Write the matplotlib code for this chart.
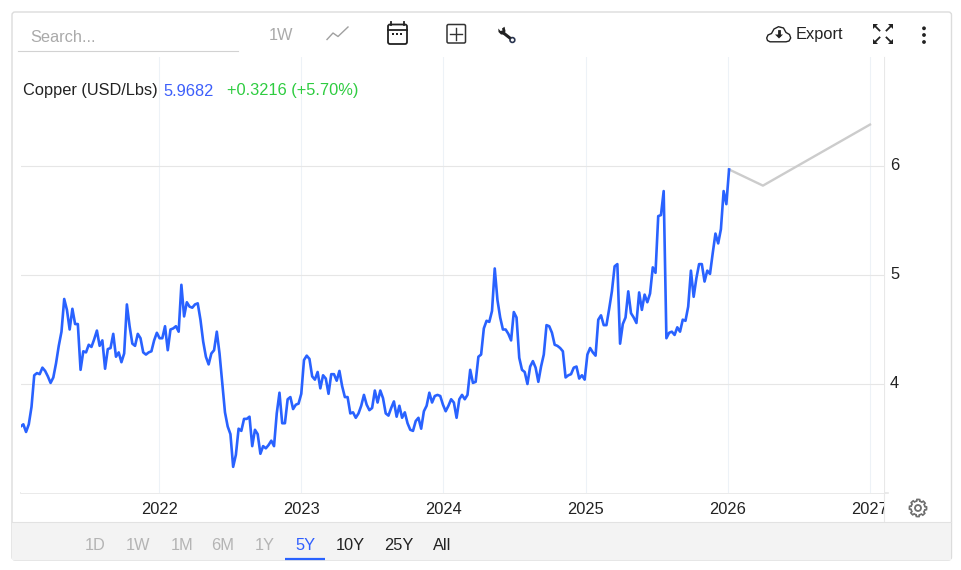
import numpy as np
import pandas as pd
import matplotlib
matplotlib.use("Agg")
import matplotlib.pyplot as plt
import matplotlib.dates as mdates
from matplotlib.patches import FancyBboxPatch, Rectangle, Circle, Polygon
from matplotlib.transforms import Bbox, ScaledTranslation

plt.rcParams['font.family'] = ['Liberation Sans', 'DejaVu Sans']

# --- Data (weekly closes, last one is 2026-01-04) ---
copper_2021_22 = [
    3.61, 3.63, 3.56, 3.63, 3.79, 4.08, 4.10, 4.09, 4.15, 4.12, 4.07, 4.01, 4.06, 4.19, 4.35,
    4.48, 4.78, 4.68, 4.50, 4.69, 4.55, 4.55, 4.13, 4.30, 4.29, 4.36, 4.34, 4.41, 4.49, 4.35,
    4.40, 4.14, 4.32, 4.33, 4.46, 4.25, 4.29, 4.20, 4.28, 4.73, 4.53, 4.37, 4.35, 4.46, 4.42,
    4.29, 4.27, 4.29, 4.30, 4.40, 4.47, 4.42, 4.42, 4.53, 4.31, 4.50, 4.51, 4.53, 4.48, 4.91,
    4.62, 4.75, 4.71, 4.70, 4.73, 4.74, 4.59, 4.39, 4.25, 4.18, 4.28, 4.31, 4.48, 4.28, 4.01,
    3.74, 3.61, 3.54, 3.24, 3.35, 3.59, 3.57, 3.68, 3.68, 3.70, 3.43, 3.58, 3.54, 3.36, 3.43,
    3.41, 3.44, 3.48, 3.43, 3.73, 3.92, 3.64, 3.64, 3.86, 3.88, 3.77, 3.81, 3.82, 3.91, 4.22,
    4.26,
]
copper_2023_24 = [
    4.23, 4.07, 4.04, 4.11, 3.96, 4.08, 4.05, 3.91, 4.09, 4.09, 4.03, 4.12, 3.98, 3.88, 3.88,
    3.73, 3.74, 3.69, 3.73, 3.80, 3.90, 3.81, 3.76, 3.78, 3.94, 3.83, 3.94, 3.87, 3.73, 3.71,
    3.78, 3.84, 3.70, 3.80, 3.69, 3.74, 3.64, 3.58, 3.57, 3.66, 3.69, 3.59, 3.75, 3.80, 3.92,
    3.83, 3.89, 3.90, 3.89, 3.81, 3.75, 3.80, 3.86, 3.83, 3.69, 3.86, 3.90, 3.86, 3.90, 4.13,
    4.01, 4.02, 4.25, 4.27, 4.51, 4.58, 4.57, 4.67, 5.06, 4.77, 4.61, 4.50, 4.50, 4.46, 4.40,
    4.66, 4.61, 4.24, 4.13, 4.11, 4.00, 4.16, 4.21, 4.15, 4.02, 4.16, 4.27, 4.54, 4.53, 4.47,
    4.36, 4.35, 4.33, 4.30, 4.06, 4.08, 4.09, 4.15, 4.16, 4.05, 4.08, 4.04,
]
copper_2025 = [
    4.27, 4.33, 4.29, 4.26, 4.59, 4.63, 4.54, 4.54, 4.69, 4.85, 5.08, 5.10, 4.37, 4.55, 4.61,
    4.85, 4.65, 4.61, 4.56, 4.84, 4.68, 4.82, 4.75, 4.83, 5.07, 5.02, 5.54, 5.55, 5.77, 4.42,
    4.47, 4.48, 4.45, 4.52, 4.48, 4.59, 4.58, 4.71, 5.04, 4.80, 4.97, 5.10, 5.10, 4.94, 5.04,
    5.01, 5.20, 5.38, 5.29, 5.42, 5.77, 5.65, 5.9682,
]
forecast_dates = ["2026-01-04", "2026-04-01", "2027-01-01"]
forecast_values = [5.9682, 5.82, 6.38]

y_ticks = [4, 5, 6]
x_tick_years = [2022, 2023, 2024, 2025, 2026, 2027]
range_labels = ["1D", "1W", "1M", "6M", "1Y", "5Y", "10Y", "25Y", "All"]
range_colors = ["#b4b4b4"] * 5 + ["#2f5fff"] + ["#222222"] * 3

copper_values = copper_2021_22 + copper_2023_24 + copper_2025
copper_dates = pd.date_range(end="2026-01-04", periods=len(copper_values), freq="7D")

BLUE = "#2962ff"
W, H = 962, 570
FS = 16.4 * 72 / 100  # about 16px at dpi 100

fig = plt.figure(figsize=(W / 100, H / 100), dpi=100, facecolor="white")

# --- Chart axes, pixel box 21..884 x 57..493 ---
ax = fig.add_axes([21 / W, (H - 493) / H, (884 - 21) / W, (493 - 57) / H])
ax.plot(copper_dates, copper_values, color=BLUE, linewidth=1.9, solid_joinstyle="round", zorder=3)
ax.plot(pd.to_datetime(forecast_dates), forecast_values, color="#cccccc", linewidth=1.7, zorder=2)
ax.set_xlim(pd.Timestamp("2021-01-11"), pd.Timestamp("2027-02-06"))
ax.set_ylim(3.0, 7.0)

ax.set_yticks(y_ticks)
ax.set_xticks([pd.Timestamp(f"{y}-01-01") for y in x_tick_years])
ax.xaxis.set_major_formatter(mdates.DateFormatter("%Y"))
ax.yaxis.tick_right()
ax.tick_params(axis="y", length=0, pad=4.3, labelsize=FS, labelcolor="#222222")
ax.tick_params(axis="x", length=0, pad=6.4, labelsize=FS, labelcolor="#222222")
ax.grid(axis="x", color="#edf2f7", linewidth=0.8)
ax.grid(axis="y", color="#e6e6e6", linewidth=0.8)
ax.set_axisbelow(True)
for s in ["top", "left", "right", "bottom"]:
    ax.spines[s].set_visible(False)

# y labels sit a little above their gridlines
up = ScaledTranslation(0, 2 / 100, fig.dpi_scale_trans)
for lab in ax.get_yticklabels():
    lab.set_transform(lab.get_transform() + up)

# 2027 gets cut off by the right hand rule
clip = Bbox([[0, 0], [884, H]])
for lab in ax.get_xticklabels():
    lab.set_clip_box(clip)
    lab.set_clip_on(True)

# --- Page furniture, drawn in pixel coordinates ---
ui = fig.add_axes([0, 0, 1, 1], facecolor="none", zorder=-1)
ui.set_xlim(0, W)
ui.set_ylim(H, 0)
ui.axis("off")
top = fig.add_axes([0, 0, 1, 1], facecolor="none", zorder=5)
top.set_xlim(0, W)
top.set_ylim(H, 0)
top.axis("off")

ui.add_patch(FancyBboxPatch((12, 12), 939.5, 548, boxstyle="round,pad=0,rounding_size=3",
                            fc="white", ec="#dcdcdc", lw=1))
ui.add_patch(Rectangle((12.5, 522), 938.5, 37.5, fc="#f3f3f3", ec="none"))
ui.plot([12.5, 951], [522, 522], color="#e2e2e2", lw=0.8)
ui.plot([21, 888], [493, 493], color="#e6e6e6", lw=1.2)
ui.plot([884, 884], [57, 521], color="#e8e8e8", lw=0.8)

# search box and toolbar
top.text(30, 38, "Search...", fontsize=FS, color="#aaaaaa", va="center")
top.plot([18, 238], [51, 51], color="#d2d2d2", lw=0.8)
top.text(281, 35, "1W", fontsize=FS, color="#aaaaaa", va="center", ha="center")
top.plot([327, 333, 338, 348], [39.5, 33, 36.5, 27], color="#a0a0a0", lw=1)

# calendar
top.add_patch(FancyBboxPatch((388, 24.5), 19, 19.5, boxstyle="round,pad=0,rounding_size=2",
                             fc="white", ec="#222222", lw=1.3))
top.plot([388, 407], [30, 30], color="#222222", lw=1.3)
top.plot([391, 391], [22, 25], color="#222222", lw=1.3)
top.plot([404, 404], [22, 25], color="#222222", lw=1.3)
for dx in [393.5, 397.5, 401.5]:
    top.add_patch(Rectangle((dx - 1, 32.5), 2, 2, fc="#222222", ec="none"))

# plus box
top.add_patch(FancyBboxPatch((447, 24.5), 18.5, 18.5, boxstyle="round,pad=0,rounding_size=1.5",
                             fc="white", ec="#333333", lw=1.1))
top.plot([450.5, 462], [33.8, 33.8], color="#333333", lw=1)
top.plot([456.3, 456.3], [28, 39.5], color="#333333", lw=1)

# wrench
jaw = [(504.5, 26.7), (502, 28.5), (502.5, 30.5), (500.5, 31), (498.3, 28.5), (498.5, 32),
       (501, 34.5), (504.5, 34.5), (505.5, 31)]
top.add_patch(Polygon(jaw, closed=True, fc="#222222", ec="none"))
top.plot([503.5, 510.5], [33, 38.5], color="#222222", lw=2.2, solid_capstyle="butt")
top.add_patch(Circle((512.4, 40), 2.4, fc="white", ec="#2a3550", lw=1.2))

# legend line
top.text(23, 91, "Copper (USD/Lbs)", fontsize=FS, color="#222222", va="center")
top.text(163.5, 91, "5.9682", fontsize=FS, color="#3d5ffb", va="center")
top.text(227.5, 91, "+0.3216 (+5.70%)", fontsize=FS, color="#2ecc40", va="center")

# export
cloud = [(766.7, 38), (768, 35), (771.5, 33.5), (774, 29), (778.5, 26.7), (783.5, 28),
         (786, 32.5), (789.5, 34.5), (790.7, 38), (789, 41), (786, 41.8), (770, 41.8), (767.5, 40.5)]
top.add_patch(Polygon(cloud, closed=True, fc="white", ec="#222222", lw=1, joinstyle="round"))
top.plot([779, 779], [30.5, 34.5], color="#222222", lw=2)
top.add_patch(Polygon([(775, 34.5), (783, 34.5), (779, 38.5)], closed=True, fc="#222222", ec="none"))
top.text(796, 35, "Export", fontsize=FS, color="#222222", va="center")

# fullscreen arrows
for x0, y0, sx, sy in [(873, 24, 1, 1), (893, 24, -1, 1), (873, 44, 1, -1), (893, 44, -1, -1)]:
    top.add_patch(Polygon([(x0, y0), (x0 + 5 * sx, y0), (x0, y0 + 5 * sy)], closed=True,
                          fc="#222222", ec="none"))
    top.plot([x0 + 2 * sx, x0 + 6.5 * sx], [y0 + 2 * sy, y0 + 6.5 * sy], color="#222222", lw=1.3)

# menu dots
for y in [28.3, 35, 42]:
    top.add_patch(Circle((924, y), 1.9, fc="#222222", ec="none"))

# gear
ang = np.linspace(0, 2 * np.pi, 96, endpoint=False)
rad = 7 + 1.6 * (np.cos(8 * ang) > 0)
top.add_patch(Polygon(np.column_stack([918 + rad * np.cos(ang), 508 + rad * np.sin(ang)]),
                      closed=True, fc="white", ec="#6f6f6f", lw=1.2))
top.add_patch(Circle((918, 508), 3, fc="white", ec="#6f6f6f", lw=1.3))

# range selector
range_x = [95, 138, 182, 223, 265, 305, 350, 399, 442]
for x, lab, c in zip(range_x, range_labels, range_colors):
    top.text(x, 545, lab, fontsize=FS, color=c, va="center", ha="center")
top.plot([285, 325], [558.7, 558.7], color=BLUE, lw=1.6, solid_capstyle="butt")

fig.savefig("out.png", dpi=100, facecolor="white")
